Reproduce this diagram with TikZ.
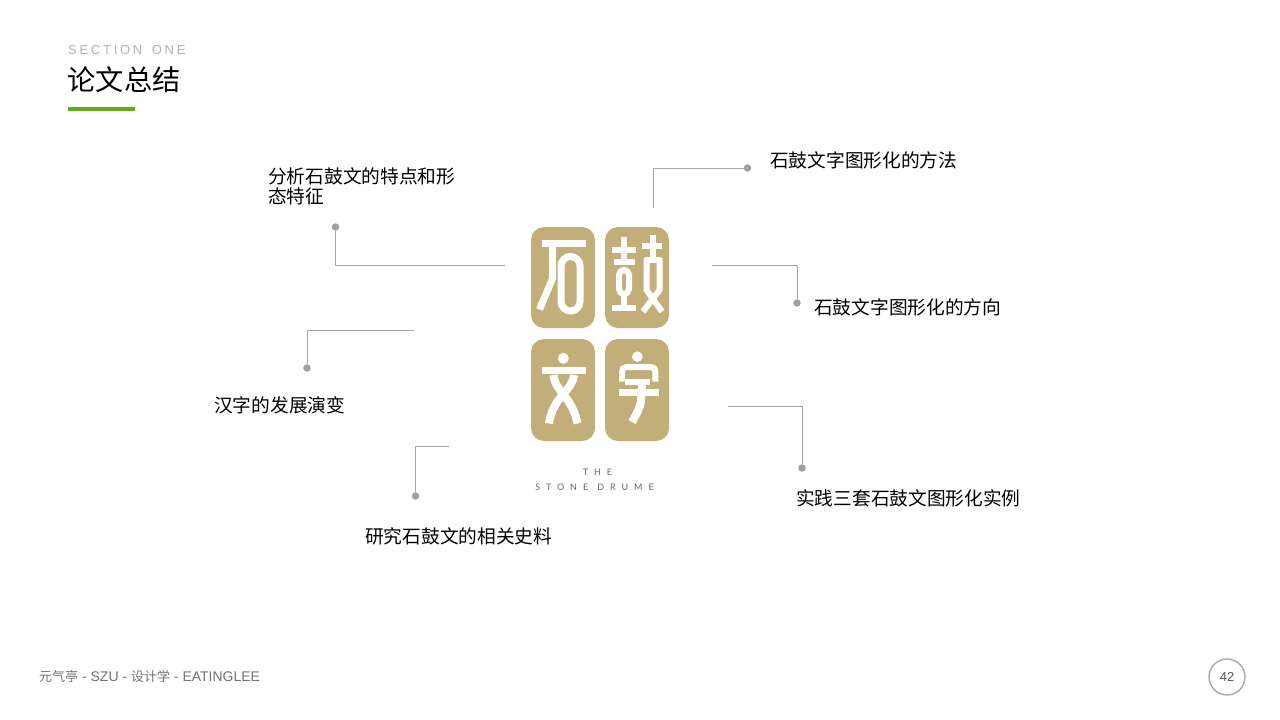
\documentclass[tikz,border=0pt]{standalone}
\usepackage{fontspec}
\setmainfont{Liberation Sans}
\newfontfamily\cjk{Noto Sans CJK SC}
\newfontfamily\secfont[LetterSpace=21,WordSpace=1.5]{Liberation Sans}
\newfontfamily\logofont[LetterSpace=66,WordSpace=1.1]{Lato}
\definecolor{tile}{HTML}{C1AE78}
\definecolor{linegray}{HTML}{A6A6A6}
\definecolor{dotgray}{HTML}{A0A0A0}
\definecolor{barGreen}{HTML}{62AE12}
\tikzset{
  label/.style={anchor=west,inner sep=0pt,font=\cjk\fontsize{18.7}{20}\selectfont,text=black,align=left},
  dotnode/.style={circle,fill=dotgray,inner sep=0pt,minimum size=7.5pt},
  link/.style={draw=linegray,line width=1pt},
  tilebox/.style={fill=tile,rounded corners=13pt},
  glyph/.style={draw=white,line width=7pt,line cap=butt,line join=miter},
  glyphthin/.style={draw=white,line width=6pt},
}
\begin{document}
\begin{tikzpicture}[x=1pt,y=-1pt]
\useasboundingbox (0,0) rectangle (1280,720);
\fill[white] (0,0) rectangle (1280,720);
% header
\node[anchor=west,inner sep=0pt,text=black!30,font=\secfont\fontsize{13}{14}\selectfont] (sec) at (68,50.5) {SECTION ONE};
\node[anchor=west,inner sep=0pt,text=black,font=\cjk\fontsize{28.2}{30}\selectfont] (title) at (67.5,79.5) {论文总结};
\fill[barGreen] (68,107) rectangle (135,111);
% footer
\node[anchor=west,inner sep=0pt,text=black!55,font=\fontsize{14}{16}\selectfont] (foot) at (39,677) {{\cjk\fontsize{13}{16}\selectfont 元气亭} - SZU - {\cjk\fontsize{13}{16}\selectfont 设计学} - EATINGLEE};
\node[circle,draw=black!35,line width=1.3pt,minimum size=36pt,inner sep=0pt,text=black!65,font=\fontsize{13}{15}\selectfont] (page) at (1227,677) {42};
% tiles
\fill[tilebox] (531,227) rectangle (595,328);
\fill[tilebox] (605,227) rectangle (669,328);
\fill[tilebox] (531,339) rectangle (595,441);
\fill[tilebox] (605,339) rectangle (669,441);
% shi
\draw[glyph] (542.3,243) -- (586,243);
\draw[glyph] (552.7,243) -- (552.7,278) -- (539.5,309.5);
\draw[glyph] (561,266) arc[start angle=180,end angle=360,radius=9.5] -- (580,301.5) arc[start angle=0,end angle=180,radius=9.5] -- cycle;
% gu left
\draw[glyphthin] (624,237) -- (624,263);
\draw[glyphthin] (611.7,250) -- (636,250);
\draw[glyphthin] (613.5,262) -- (634.5,262);
\draw[glyphthin] (619,275) arc[start angle=180,end angle=360,radius=5] -- (629,289) arc[start angle=0,end angle=180,radius=5] -- cycle;
\draw[glyphthin] (624,296) -- (624,307);
\draw[glyphthin] (611.7,308) -- (636,308);
% gu right
\draw[glyphthin] (653.3,235) -- (653.3,258);
\draw[glyphthin] (641.7,246) -- (662.3,246);
\draw[glyphthin] (645,260) -- (661,260);
\draw[glyphthin] (646.5,258) -- (646.5,290) -- (662,311.5);
\draw[glyphthin] (659.5,258) -- (659.5,290) -- (643,311.5);
% wen
\fill[white] (563.3,358.3) circle (5.5);
\draw[glyph] (541.7,370.5) -- (586,370.5);
\draw[glyph,line width=8pt] (553.5,375) .. controls (555,392) and (572,396) .. (577.5,423.5);
\draw[glyph,line width=8pt] (574,375) .. controls (572,392) and (553,396) .. (549,423.5);
% zi
\fill[white] (637.3,356.7) circle (5.3);
\draw[glyphthin] (622,381.5) -- (622,372) .. controls (622,369) and (623.5,367) .. (626.5,367) -- (651,367) .. controls (654,367) and (655.3,369) .. (655.3,372) -- (655.3,381.5);
\draw[glyphthin] (625,382) -- (650,382);
\draw[glyph] (619,392.5) -- (658.5,392.5);
\draw[glyph,line width=8pt] (642,384) -- (641,401) .. controls (640,408) and (636,415) .. (632,422);
% logo text
\node[inner sep=0pt,text=black!60,font=\logofont\fontsize{9}{10}\selectfont] (the) at (597.5,472) {THE};
\node[inner sep=0pt,text=black!60,font=\logofont\fontsize{9}{10}\selectfont] (stone) at (594.5,487) {STONE DRUME};
% labels
\node[label] (l1) at (770,160) {石鼓文字图形化的方法};
\node[label] (l2) at (268,186) {分析石鼓文的特点和形\\态特征};
\node[label] (l3) at (814,307) {石鼓文字图形化的方向};
\node[label] (l4) at (214,405) {汉字的发展演变};
\node[label] (l5) at (365,536) {研究石鼓文的相关史料};
\node[label] (l6) at (796,498) {实践三套石鼓文图形化实例};
% dots
\node[dotnode] (d1) at (747.5,168) {};
\node[dotnode] (d2) at (335.5,227) {};
\node[dotnode] (d3) at (797,303) {};
\node[dotnode] (d4) at (307,368) {};
\node[dotnode] (d5) at (415.5,496) {};
\node[dotnode] (d6) at (802,468) {};
% free ends
\coordinate (s1) at (653.7,208);
\coordinate (s2) at (505,265.5);
\coordinate (s3) at (712,265.5);
\coordinate (s4) at (414,330);
\coordinate (s5) at (449,446.5);
\coordinate (s6) at (728,406.5);
\draw[link] (s1) |- (d1);
\draw[link] (s2) -| (d2);
\draw[link] (s3) -| (d3);
\draw[link] (s4) -| (d4);
\draw[link] (s5) -| (d5);
\draw[link] (s6) -| (d6);
\end{tikzpicture}
\end{document}
